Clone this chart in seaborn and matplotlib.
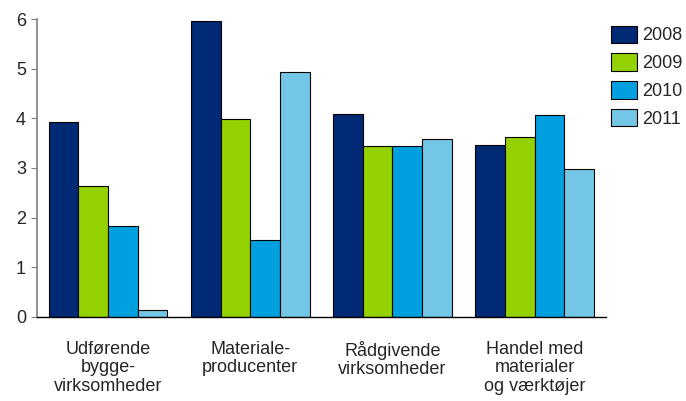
import pandas as pd
import seaborn as sns
import matplotlib.pyplot as plt

# Values
categories = ["Udførende\nbygge-\nvirksomheder", "Materiale-\nproducenter",
              "Rådgivende\nvirksomheder", "Handel med\nmaterialer\nog værktøjer"]
years = ["2008", "2009", "2010", "2011"]
v2008 = [3.92, 5.95, 4.08, 3.46]
v2009 = [2.64, 3.98, 3.44, 3.62]
v2010 = [1.83, 1.55, 3.44, 4.06]
v2011 = [0.14, 4.93, 3.58, 2.98]
colors = ["#002A74", "#94D100", "#00A0E0", "#74C6E6"]

rows = []
for year, vals in zip(years, [v2008, v2009, v2010, v2011]):
    for cat, v in zip(categories, vals):
        rows.append({"category": cat, "year": year, "value": v})
data = pd.DataFrame(rows)

sns.set_style("white")
plt.rcParams["font.family"] = ["Liberation Sans", "DejaVu Sans"]

fig = plt.figure(figsize=(6.86, 4.01), dpi=100)
ax = fig.add_axes([0.054, 0.2095, 0.829, 0.7431])

sns.barplot(data=data, x="category", y="value", hue="year",
            palette=colors, saturation=1, width=0.835, gap=0,
            edgecolor="black", linewidth=0.8, ax=ax)

ax.set_xlim(-0.5, 3.5)
ax.set_ylim(0, 6)
ax.set_yticks(range(7))
ax.set_xlabel("")
ax.set_ylabel("")
ax.tick_params(axis="y", labelsize=13, length=4, width=0.8, color="#808080", left=True, pad=4)
ax.tick_params(axis="x", labelsize=13, length=0, pad=17)
for lab in ax.get_xticklabels():
    lab.set_linespacing(1.13)

for s in ["top", "right"]:
    ax.spines[s].set_visible(False)
ax.spines["left"].set_color("#808080")
ax.spines["left"].set_linewidth(1.2)
ax.spines["bottom"].set_color("black")
ax.spines["bottom"].set_linewidth(1.0)

leg = ax.legend(loc="upper left", bbox_to_anchor=(1.009, 0.978), frameon=False,
                fontsize=13, handlelength=1.45, handleheight=1.1,
                handletextpad=0.3, labelspacing=0.5, borderpad=0,
                borderaxespad=0)

plt.savefig("out.png", dpi=100)
